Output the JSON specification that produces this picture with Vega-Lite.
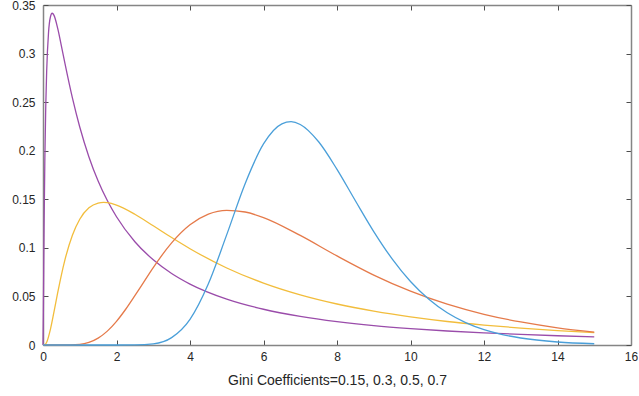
{
  "$schema": "https://vega.github.io/schema/vega-lite/v6.json",
  "width": 588,
  "height": 340,
  "autosize": {"type": "none"},
  "padding": {"left": 43, "top": 5, "right": 8, "bottom": 51},
  "background": "white",
  "config": {
    "view": {"stroke": null},
    "font": "Liberation Sans",
    "axis": {"labelFont": "Liberation Sans", "titleFont": "Liberation Sans", "labelColor": "#262626", "titleColor": "#262626", "labelFontSize": 12, "titleFontSize": 14, "titleFontWeight": "normal", "domainColor": "#858585", "domainWidth": 1.5, "tickColor": "#4d4d4d", "grid": false, "tickSize": -5, "labelFlush": false, "labelOverlap": false}
  },
  "data": {"values": [
    {"s": "purple", "x": 0, "y": 0}, {"s": "purple", "x": 0.01, "y": 0.0336}, {"s": "purple", "x": 0.02, "y": 0.0817}, {"s": "purple", "x": 0.03, "y": 0.1244}, {"s": "purple", "x": 0.05, "y": 0.1904}, {"s": "purple", "x": 0.075, "y": 0.2461}, {"s": "purple", "x": 0.1, "y": 0.2821}, {"s": "purple", "x": 0.15, "y": 0.3214}, {"s": "purple", "x": 0.2, "y": 0.3374}, {"s": "purple", "x": 0.25, "y": 0.3415}, {"s": "purple", "x": 0.3, "y": 0.3393}, {"s": "purple", "x": 0.4, "y": 0.3259}, {"s": "purple", "x": 0.5, "y": 0.308}, {"s": "purple", "x": 0.6, "y": 0.2893}, {"s": "purple", "x": 0.8, "y": 0.2543}, {"s": "purple", "x": 1, "y": 0.2244}, {"s": "purple", "x": 1.25, "y": 0.1936}, {"s": "purple", "x": 1.5, "y": 0.1688}, {"s": "purple", "x": 1.75, "y": 0.1487}, {"s": "purple", "x": 2, "y": 0.132}, {"s": "purple", "x": 2.5, "y": 0.1063}, {"s": "purple", "x": 3, "y": 0.0877}, {"s": "purple", "x": 3.5, "y": 0.0736}, {"s": "purple", "x": 4, "y": 0.0627}, {"s": "purple", "x": 5, "y": 0.0472}, {"s": "purple", "x": 6, "y": 0.0368}, {"s": "purple", "x": 7, "y": 0.0295}, {"s": "purple", "x": 8, "y": 0.0241}, {"s": "purple", "x": 9, "y": 0.02}, {"s": "purple", "x": 10, "y": 0.0169}, {"s": "purple", "x": 11, "y": 0.0144}, {"s": "purple", "x": 12, "y": 0.0125}, {"s": "purple", "x": 13, "y": 0.0109}, {"s": "purple", "x": 14, "y": 0.0095}, {"s": "purple", "x": 15, "y": 0.0084},
    {"s": "yellow", "x": 0, "y": 0}, {"s": "yellow", "x": 0.05, "y": 0.0003}, {"s": "yellow", "x": 0.1, "y": 0.0029}, {"s": "yellow", "x": 0.2, "y": 0.0159}, {"s": "yellow", "x": 0.3, "y": 0.0344}, {"s": "yellow", "x": 0.4, "y": 0.0538}, {"s": "yellow", "x": 0.5, "y": 0.072}, {"s": "yellow", "x": 0.6, "y": 0.0881}, {"s": "yellow", "x": 0.8, "y": 0.113}, {"s": "yellow", "x": 1, "y": 0.1295}, {"s": "yellow", "x": 1.25, "y": 0.1412}, {"s": "yellow", "x": 1.5, "y": 0.1461}, {"s": "yellow", "x": 1.65, "y": 0.1468}, {"s": "yellow", "x": 1.75, "y": 0.1465}, {"s": "yellow", "x": 2, "y": 0.144}, {"s": "yellow", "x": 2.5, "y": 0.1346}, {"s": "yellow", "x": 3, "y": 0.1227}, {"s": "yellow", "x": 3.5, "y": 0.1106}, {"s": "yellow", "x": 4, "y": 0.0991}, {"s": "yellow", "x": 5, "y": 0.0793}, {"s": "yellow", "x": 6, "y": 0.0637}, {"s": "yellow", "x": 7, "y": 0.0516}, {"s": "yellow", "x": 8, "y": 0.0422}, {"s": "yellow", "x": 9, "y": 0.0348}, {"s": "yellow", "x": 10, "y": 0.0289}, {"s": "yellow", "x": 11, "y": 0.0242}, {"s": "yellow", "x": 12, "y": 0.0205}, {"s": "yellow", "x": 13, "y": 0.0174}, {"s": "yellow", "x": 14, "y": 0.0149}, {"s": "yellow", "x": 15, "y": 0.0128},
    {"s": "orange", "x": 0, "y": 0}, {"s": "orange", "x": 0.5, "y": 0}, {"s": "orange", "x": 1, "y": 0.0007}, {"s": "orange", "x": 1.25, "y": 0.0027}, {"s": "orange", "x": 1.5, "y": 0.0071}, {"s": "orange", "x": 1.75, "y": 0.0143}, {"s": "orange", "x": 2, "y": 0.0244}, {"s": "orange", "x": 2.25, "y": 0.0368}, {"s": "orange", "x": 2.5, "y": 0.0508}, {"s": "orange", "x": 2.75, "y": 0.0653}, {"s": "orange", "x": 3, "y": 0.0797}, {"s": "orange", "x": 3.5, "y": 0.1051}, {"s": "orange", "x": 4, "y": 0.1237}, {"s": "orange", "x": 4.5, "y": 0.1347}, {"s": "orange", "x": 5, "y": 0.1386}, {"s": "orange", "x": 5.5, "y": 0.1369}, {"s": "orange", "x": 6, "y": 0.1312}, {"s": "orange", "x": 7, "y": 0.1128}, {"s": "orange", "x": 8, "y": 0.0917}, {"s": "orange", "x": 9, "y": 0.072}, {"s": "orange", "x": 10, "y": 0.0554}, {"s": "orange", "x": 11, "y": 0.042}, {"s": "orange", "x": 12, "y": 0.0316}, {"s": "orange", "x": 13, "y": 0.0237}, {"s": "orange", "x": 14, "y": 0.0177}, {"s": "orange", "x": 15, "y": 0.0133},
    {"s": "blue", "x": 0, "y": 0}, {"s": "blue", "x": 1, "y": 0}, {"s": "blue", "x": 2, "y": 0}, {"s": "blue", "x": 2.5, "y": 0.0001}, {"s": "blue", "x": 3, "y": 0.0012}, {"s": "blue", "x": 3.5, "y": 0.0076}, {"s": "blue", "x": 4, "y": 0.0264}, {"s": "blue", "x": 4.5, "y": 0.063}, {"s": "blue", "x": 5, "y": 0.1136}, {"s": "blue", "x": 5.5, "y": 0.1661}, {"s": "blue", "x": 6, "y": 0.207}, {"s": "blue", "x": 6.5, "y": 0.2277}, {"s": "blue", "x": 6.75, "y": 0.2299}, {"s": "blue", "x": 7, "y": 0.227}, {"s": "blue", "x": 7.5, "y": 0.2092}, {"s": "blue", "x": 8, "y": 0.1808}, {"s": "blue", "x": 8.5, "y": 0.1485}, {"s": "blue", "x": 9, "y": 0.1168}, {"s": "blue", "x": 9.5, "y": 0.0887}, {"s": "blue", "x": 10, "y": 0.0654}, {"s": "blue", "x": 10.5, "y": 0.0471}, {"s": "blue", "x": 11, "y": 0.0332}, {"s": "blue", "x": 11.5, "y": 0.0231}, {"s": "blue", "x": 12, "y": 0.0158}, {"s": "blue", "x": 12.5, "y": 0.0107}, {"s": "blue", "x": 13, "y": 0.0072}, {"s": "blue", "x": 14, "y": 0.0031}, {"s": "blue", "x": 15, "y": 0.0013}
  ]},
  "layer": [
    {
      "mark": {"type": "line", "interpolate": "monotone", "strokeWidth": 1.3},
      "encoding": {
        "x": {"field": "x", "type": "quantitative", "scale": {"domain": [0, 16], "nice": false}, "axis": {"orient": "bottom", "values": [0, 2, 4, 6, 8, 10, 12, 14, 16], "format": "~g", "title": "Gini Coefficients=0.15, 0.3, 0.5, 0.7", "titlePadding": 11, "labelPadding": 11}},
        "y": {"field": "y", "type": "quantitative", "scale": {"domain": [0, 0.35], "nice": false}, "axis": {"orient": "left", "values": [0, 0.05, 0.1, 0.15, 0.2, 0.25, 0.3, 0.35], "format": "~g", "title": null, "labelPadding": 13}},
        "color": {"field": "s", "type": "nominal", "scale": {"domain": ["blue", "orange", "yellow", "purple"], "range": ["#4A9FD9", "#E57A4A", "#F2BD3C", "#9A4CAA"]}, "legend": null},
        "detail": {"field": "s"}
      }
    },
    {
      "mark": {"type": "line", "opacity": 0},
      "encoding": {
        "x": {"field": "x", "type": "quantitative", "scale": {"domain": [0, 16], "nice": false}, "axis": {"orient": "top", "values": [0, 2, 4, 6, 8, 10, 12, 14, 16], "labels": false, "title": null}},
        "y": {"field": "y", "type": "quantitative", "scale": {"domain": [0, 0.35], "nice": false}, "axis": {"orient": "right", "values": [0, 0.05, 0.1, 0.15, 0.2, 0.25, 0.3, 0.35], "labels": false, "title": null}},
        "detail": {"field": "s"}
      }
    }
  ],
  "resolve": {"scale": {"x": "independent", "y": "independent"}, "axis": {"x": "independent", "y": "independent"}}
}
